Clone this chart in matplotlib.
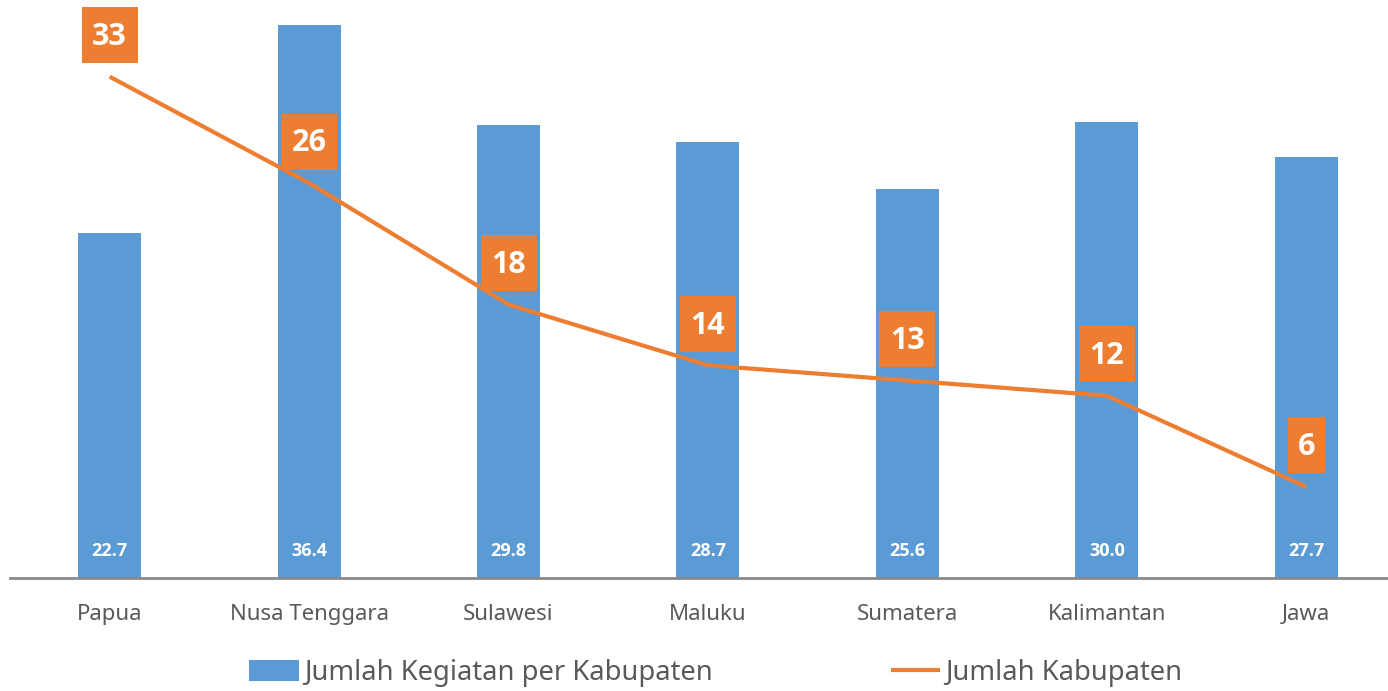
import numpy as np
import matplotlib
matplotlib.use("Agg")
import matplotlib.pyplot as plt
from matplotlib import transforms
from matplotlib.patches import Rectangle

plt.rcParams['font.family'] = ['Noto Sans', 'DejaVu Sans']

regions = ['Papua', 'Nusa Tenggara', 'Sulawesi', 'Maluku', 'Sumatera', 'Kalimantan', 'Jawa']
kegiatan = [22.7, 36.4, 29.8, 28.7, 25.6, 30.0, 27.7]
kabupaten = [33, 26, 18, 14, 13, 12, 6]

blue = '#5B9BD5'
orange = '#ED7D31'
bold_font = ['Open Sans', 'Lato', 'DejaVu Sans']

fig = plt.figure(figsize=(13.88, 6.91), dpi=100)
ax = fig.add_axes([10 / 1388, 113 / 691, 1378 / 1388, 578 / 691])

x = np.arange(len(regions))
bars = ax.bar(x, kegiatan, width=0.316, color=blue, label='Jumlah Kegiatan per Kabupaten', zorder=2)
line, = ax.plot(x, kabupaten, color=orange, lw=3, label='Jumlah Kabupaten', zorder=3,
                solid_capstyle='butt')

# value labels inside bars, near the base
for xi, v in zip(x, kegiatan):
    ax.text(xi, 1.75, f'{v:.1f}', ha='center', va='center', color='white',
            fontsize=13, fontweight='bold', family=bold_font, zorder=4)

# line labels in orange boxes above the points (box size in inches, anchored at the point)
for xi, v in zip(x, kabupaten):
    w = 0.56 if len(str(v)) > 1 else 0.37
    trans = fig.dpi_scale_trans + transforms.ScaledTranslation(xi, v, ax.transData)
    ax.add_patch(Rectangle((-w / 2, 0.135), w, 0.56, transform=trans, fc=orange, ec='none',
                           zorder=5, clip_on=False))
    ax.annotate(str(v), (xi, v), xytext=(0, 28.6), textcoords='offset points',
                ha='center', va='center', color='white', fontsize=22, fontweight='bold',
                family=bold_font, zorder=6)

ax.set_xlim(-0.5, 6.41)
ax.set_ylim(0, 38.05)
ax.set_yticks([])
ax.set_xticks(x)
ax.set_xticklabels(regions, fontsize=16, color='#595959')
ax.tick_params(axis='x', length=0, pad=19)
for s in ['top', 'right', 'left']:
    ax.spines[s].set_visible(False)
ax.spines['bottom'].set_color('#898989')
ax.spines['bottom'].set_linewidth(2)

fig.legend(handles=[bars, line], loc='center', bbox_to_anchor=(716 / 1388, 1 - 673 / 691),
           ncol=2, frameon=False, fontsize=19.7, handlelength=1.8, handleheight=0.85,
           handletextpad=0.2, columnspacing=6.5, labelcolor='#595959')

fig.savefig('out.png', dpi=100)
